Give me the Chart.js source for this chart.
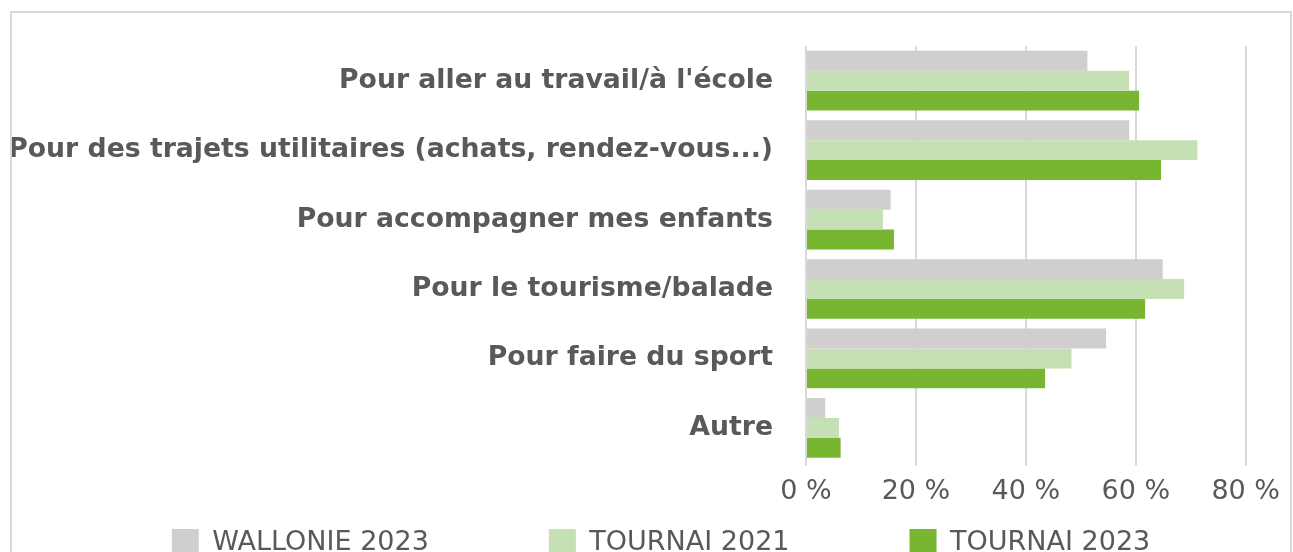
<!DOCTYPE html>
<html>
<head>
<meta charset="utf-8">
<script src="https://cdn.jsdelivr.net/npm/chart.js@4"></script>
<style>
  html, body { margin: 0; padding: 0; background: #fff; overflow: hidden; }
  #frame {
    position: absolute; left: 10px; top: 11px;
    width: 1278px; height: 600px;
    border: 2px solid #d9d9d9;
  }
</style>
</head>
<body>
<div id="frame"><canvas id="myChart"></canvas></div>
<script>
'use strict';

// categories (top to bottom)
var categories = [
    "Pour aller au travail/à l'école",
    "Pour des trajets utilitaires (achats, rendez-vous...)",
    "Pour accompagner mes enfants",
    "Pour le tourisme/balade",
    "Pour faire du sport",
    "Autre"
];

// values in %
var wallonie2023 = [51.2, 58.8, 15.4, 64.9, 54.6, 3.5];
var tournai2021 = [58.8, 71.2, 14.0, 68.8, 48.3, 6.0];
var tournai2023 = [60.6, 64.6, 16.0, 61.7, 43.5, 6.3];

var seriesNames = ["WALLONIE 2023", "TOURNAI 2021", "TOURNAI 2023"];
var xTicks = [0, 20, 40, 60, 80];

var textColor = "#595959";
var gridColor = "#d9d9d9";
var yAxisWidth = 794;   // room for the long category labels
var legendGap = 11;     // space between axis labels and legend boxes
var legendShiftX = 10;

// legend: keep the wide horizontal spacing without the same vertical padding
var legendSpacing = {
    id: 'legendSpacing',
    beforeInit: function(chart) {
        var legend = chart.legend;
        var fit = legend.fit;
        legend.fit = function() {
            fit.call(this);
            this.height = legendGap + this.options.labels.boxHeight + 20;
        };
        var draw = legend.draw;
        legend.draw = function() {
            var top = this.top, left = this.left, right = this.right;
            this.top = top + legendGap - this.options.labels.padding;
            this.left = left + legendShiftX;
            this.right = right + legendShiftX;
            draw.call(this);
            this.top = top;
            this.left = left;
            this.right = right;
        };
    }
};

function initChart() {
    var ctx = document.getElementById("myChart").getContext("2d");
    ctx.canvas.width = 1278;
    ctx.canvas.height = 563;

    var data = {
        labels: categories,
        datasets: [
            {
                label: seriesNames[0],
                data: wallonie2023,
                backgroundColor: "#d0cece"
            },
            {
                label: seriesNames[1],
                data: tournai2021,
                backgroundColor: "#c5e0b4"
            },
            {
                label: seriesNames[2],
                data: tournai2023,
                backgroundColor: "#78b530"
            }
        ]
    };

    var options = {
        indexAxis: 'y',
        responsive: false,
        animation: false,
        devicePixelRatio: 1,
        datasets: {
            bar: {
                categoryPercentage: 0.86,
                barPercentage: 1.0
            }
        },
        layout: {
            padding: { top: 33, left: 0, right: 0, bottom: 0 }
        },
        scales: {
            x: {
                min: xTicks[0],
                max: xTicks[xTicks.length - 1],
                afterBuildTicks: function(axis) {
                    axis.ticks = xTicks.map(function(v) { return { value: v }; });
                },
                grid: {
                    color: gridColor,
                    lineWidth: 2,
                    drawTicks: true,
                    tickLength: 3
                },
                border: { display: false },
                ticks: {
                    color: textColor,
                    padding: 10,
                    font: { family: "DejaVu Sans", size: 27 },
                    callback: function(v) { return v + " %"; }
                }
            },
            y: {
                afterFit: function(scale) {
                    scale.width = yAxisWidth;
                    scale.paddingTop = 0;
                    scale.paddingBottom = 0;
                },
                grid: { display: false, drawTicks: false },
                border: { display: false },
                ticks: {
                    color: textColor,
                    padding: 33,
                    font: { family: "DejaVu Sans", size: 26.7, weight: "bold" }
                }
            }
        },
        plugins: {
            legend: {
                position: 'bottom',
                labels: {
                    color: textColor,
                    boxWidth: 27,
                    boxHeight: 27,
                    padding: 120,
                    font: { family: "DejaVu Sans", size: 27 }
                }
            },
            tooltip: { enabled: false }
        }
    };

    new Chart(ctx, {
        type: 'bar',
        data: data,
        options: options,
        plugins: [legendSpacing]
    });
}

initChart();
</script>
</body>
</html>
